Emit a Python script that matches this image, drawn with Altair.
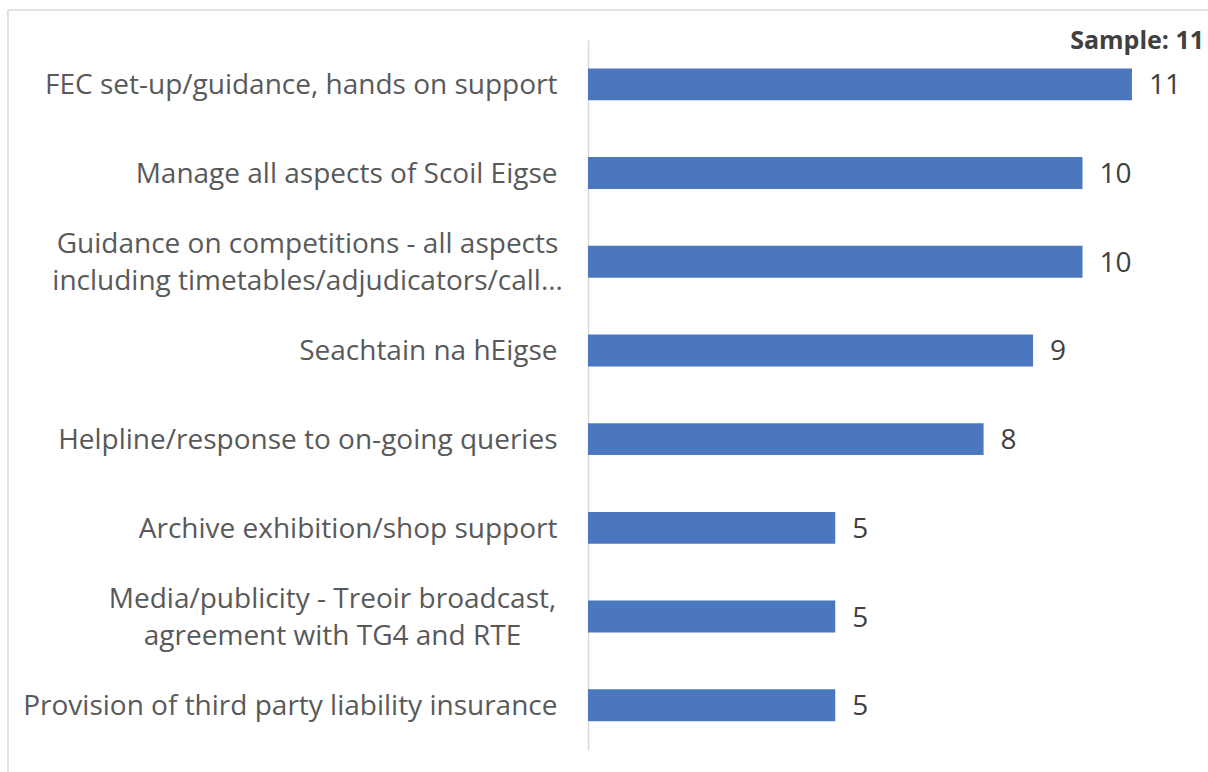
import altair as alt
import pandas as pd

categories = [
    "FEC set-up/guidance, hands on support",
    "Manage all aspects of Scoil Eigse",
    "Guidance on competitions - all aspects|including timetables/adjudicators/call…",
    "Seachtain na hEigse",
    "Helpline/response to on-going queries",
    "Archive exhibition/shop support",
    "Media/publicity - Treoir broadcast,|agreement with TG4 and RTE",
    "Provision of third party liability insurance",
]
values = [11, 10, 10, 9, 8, 5, 5, 5]
sample_label = "Sample: 11"

df = pd.DataFrame({"cat": categories, "val": values})

FONT = "Open Sans"
W = 593.4
H = 709.6

is_multi = "indexof(datum.value, '|') >= 0"
is_guidance = "indexof(datum.value, 'Guidance on') == 0"
is_media = "indexof(datum.value, 'Media/') == 0"

base = alt.Chart(df)

bars = base.mark_bar(color="#4A77BD").encode(
    x=alt.X("val:Q", scale=alt.Scale(domain=[0, 12], nice=False), axis=None),
    y=alt.Y(
        "cat:N",
        sort=categories,
        scale=alt.Scale(paddingInner=0.64, paddingOuter=0.32),
        axis=alt.Axis(
            title=None,
            ticks=False,
            labelPadding={
                "condition": [
                    {"test": is_guidance, "value": 281},
                    {"test": is_media, "value": 256},
                ],
                "value": 31,
            },
            labelAlign={"condition": {"test": is_multi, "value": "center"}, "value": "right"},
            labelOffset={"condition": {"test": is_multi, "value": -17}, "value": 2},
            labelFontSize=28,
            labelFont=FONT,
            labelColor="#595959",
            labelLineHeight=37,
            labelLimit=0,
            labelExpr="split(datum.label, '|')",
            domainColor="#d9d9d9",
            domainWidth=1.5,
            grid=False,
        ),
    ),
)

labels = base.mark_text(
    align="left", baseline="middle", dx=17, dy=2, fontSize=28, font=FONT, color="#404040"
).encode(
    x=alt.X("val:Q"),
    y=alt.Y("cat:N", sort=categories),
    text=alt.Text("val:Q"),
)

sample = alt.Chart(pd.DataFrame({"t": [sample_label]})).mark_text(
    align="right", baseline="alphabetic", fontSize=25, font=FONT, fontWeight="bold", color="#404040"
).encode(
    x=alt.value(616),
    y=alt.value(9),
    text="t:N",
)

frame_df = pd.DataFrame({"k": [0]})
top_line = alt.Chart(frame_df).mark_rule(color="#d9d9d9", strokeWidth=1.5).encode(
    x=alt.value(-580), x2=alt.value(640), y=alt.value(-30)
)
left_line = alt.Chart(frame_df).mark_rule(color="#d9d9d9", strokeWidth=1.5).encode(
    x=alt.value(-580), y=alt.value(-30), y2=alt.value(740)
)

chart = (
    alt.layer(top_line, left_line, bars, labels, sample)
    .properties(
        width=W,
        height=H,
        autosize=alt.AutoSizeParams(type="none"),
        padding={"left": 588, "top": 40, "right": 1208 - 588 - W, "bottom": 772 - 40 - H},
    )
    .configure(background="white")
    .configure_view(stroke="transparent", strokeWidth=0)
)

chart.save("out.html", embed_options={"renderer": "svg", "actions": False})
